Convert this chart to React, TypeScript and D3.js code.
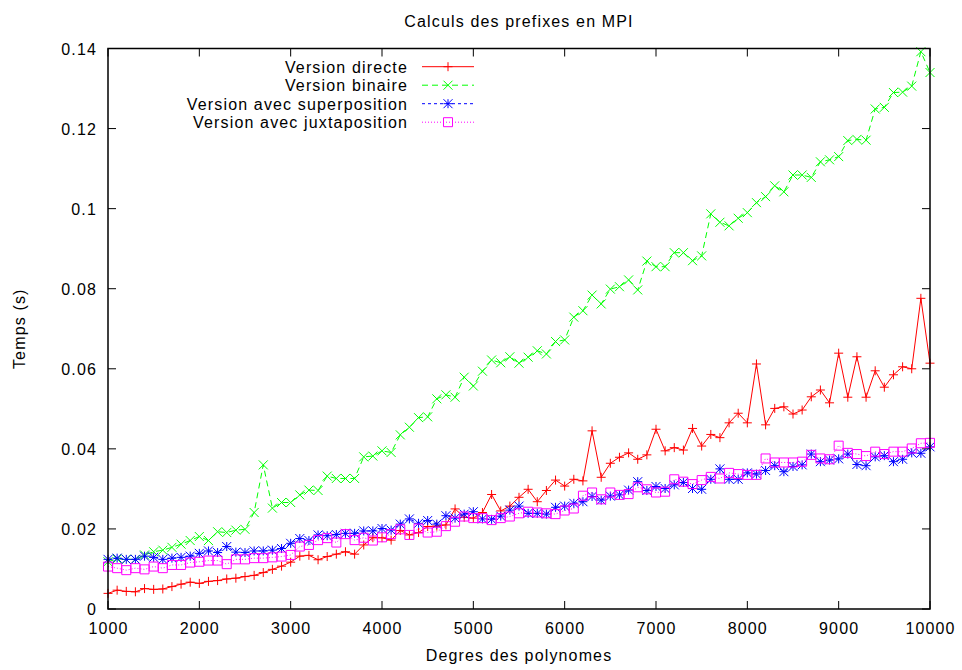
import React from 'react';
import * as d3 from 'd3';

const degrees = [
  1000, 1100, 1200, 1300, 1400, 1500, 1600, 1700, 1800, 1900,
  2000, 2100, 2200, 2300, 2400, 2500, 2600, 2700, 2800, 2900,
  3000, 3100, 3200, 3300, 3400, 3500, 3600, 3700, 3800, 3900,
  4000, 4100, 4200, 4300, 4400, 4500, 4600, 4700, 4800, 4900,
  5000, 5100, 5200, 5300, 5400, 5500, 5600, 5700, 5800, 5900,
  6000, 6100, 6200, 6300, 6400, 6500, 6600, 6700, 6800, 6900,
  7000, 7100, 7200, 7300, 7400, 7500, 7600, 7700, 7800, 7900,
  8000, 8100, 8200, 8300, 8400, 8500, 8600, 8700, 8800, 8900,
  9000, 9100, 9200, 9300, 9400, 9500, 9600, 9700, 9800, 9900,
  10000,
];

const versionDirecte = [
  0.0039, 0.0047, 0.0044, 0.0043, 0.0051, 0.0049, 0.005, 0.0056, 0.0062, 0.0067,
  0.0064, 0.0069, 0.0071, 0.0075, 0.0077, 0.0081, 0.0084, 0.0091, 0.0099, 0.0107,
  0.0117, 0.0132, 0.0134, 0.0123, 0.0131, 0.0137, 0.0143, 0.0137, 0.016, 0.0178,
  0.0178, 0.0172, 0.0196, 0.0185, 0.0191, 0.0206, 0.0207, 0.021, 0.025, 0.0229,
  0.0227, 0.0241, 0.0286, 0.0245, 0.0257, 0.0279, 0.0299, 0.0268, 0.0296, 0.0322,
  0.0307, 0.0324, 0.032, 0.0445, 0.0329, 0.0364, 0.0379, 0.039, 0.0374, 0.0385,
  0.0449, 0.0395, 0.0403, 0.0397, 0.0451, 0.0407, 0.0436, 0.0428, 0.0465, 0.0489,
  0.0465, 0.0612, 0.046, 0.0501, 0.0505, 0.0487, 0.0497, 0.053, 0.0547, 0.0515,
  0.0639, 0.0529, 0.063, 0.0529, 0.0595, 0.0554, 0.0585, 0.0605, 0.06, 0.0776,
  0.0614,
];

const versionBinaire = [
  0.0118, 0.0125, 0.0124, 0.0124, 0.0135, 0.0143, 0.0147, 0.0154, 0.0162, 0.0171,
  0.0181, 0.0171, 0.0193, 0.0191, 0.0197, 0.0199, 0.0241, 0.036, 0.0252, 0.0266,
  0.0266, 0.0285, 0.0297, 0.0296, 0.0332, 0.0326, 0.0326, 0.0326, 0.038, 0.0382,
  0.0395, 0.0391, 0.0435, 0.0454, 0.0478, 0.048, 0.0525, 0.0535, 0.0529, 0.0579,
  0.0557, 0.0594, 0.0622, 0.0615, 0.063, 0.0614, 0.0629, 0.0645, 0.0637, 0.0668,
  0.0672, 0.0729, 0.0745, 0.0784, 0.0762, 0.0799, 0.0805, 0.0822, 0.0797, 0.0869,
  0.0855, 0.0855, 0.089, 0.089, 0.087, 0.0882, 0.0987, 0.0966, 0.0957, 0.0976,
  0.099, 0.1015, 0.103, 0.1057, 0.1042, 0.1084, 0.1084, 0.1078, 0.1117, 0.1122,
  0.113, 0.117, 0.1173, 0.1171, 0.1249, 0.1253, 0.129, 0.1291, 0.1306, 0.1392,
  0.134,
];

const versionSuperposition = [
  0.0124, 0.0127, 0.0124, 0.0124, 0.0132, 0.0129, 0.0124, 0.0127, 0.0129, 0.0132,
  0.0139, 0.0145, 0.0141, 0.0156, 0.0142, 0.0141, 0.0145, 0.0145, 0.0147, 0.0151,
  0.0164, 0.0176, 0.0171, 0.0185, 0.0183, 0.0186, 0.0189, 0.0189, 0.0195, 0.0195,
  0.0201, 0.0197, 0.0212, 0.0225, 0.0214, 0.0221, 0.0212, 0.0233, 0.0227, 0.0237,
  0.0243, 0.0225, 0.0224, 0.0232, 0.0247, 0.0257, 0.0239, 0.0239, 0.0237, 0.0254,
  0.0257, 0.0264, 0.0268, 0.0281, 0.0272, 0.0282, 0.0285, 0.0297, 0.0318, 0.0296,
  0.0306, 0.0301, 0.031, 0.0316, 0.0301, 0.0299, 0.0324, 0.035, 0.0324, 0.0324,
  0.034, 0.0337, 0.0346, 0.0358, 0.0343, 0.0356, 0.036, 0.0387, 0.0368, 0.0372,
  0.0375, 0.0387, 0.0361, 0.0358, 0.038, 0.0383, 0.0368, 0.0374, 0.039, 0.0389,
  0.0405,
];

const versionJuxtaposition = [
  0.0106, 0.0102, 0.0097, 0.0102, 0.0099, 0.0106, 0.0102, 0.011, 0.011, 0.0116,
  0.0118, 0.0121, 0.0121, 0.0112, 0.0124, 0.0124, 0.0127, 0.0127, 0.0129, 0.0131,
  0.0135, 0.0156, 0.016, 0.0172, 0.0177, 0.0166, 0.0187, 0.0172, 0.0178, 0.0171,
  0.0179, 0.0187, 0.0199, 0.0185, 0.0201, 0.0191, 0.0193, 0.0207, 0.0218, 0.0231,
  0.0227, 0.0227, 0.0222, 0.0227, 0.0231, 0.0239, 0.0243, 0.0241, 0.0239, 0.0237,
  0.0246, 0.0251, 0.0283, 0.0291, 0.0274, 0.0291, 0.0285, 0.0287, 0.0304, 0.0299,
  0.0291, 0.0293, 0.0324, 0.0318, 0.0312, 0.0322, 0.033, 0.0326, 0.034, 0.0337,
  0.0335, 0.0335, 0.0376, 0.0366, 0.0366, 0.0366, 0.0368, 0.0385, 0.0376, 0.0374,
  0.0408, 0.039, 0.0387, 0.0382, 0.0393, 0.0387, 0.0393, 0.0393, 0.0401, 0.0414,
  0.0415,
];

const xTickValues = [1000, 2000, 3000, 4000, 5000, 6000, 7000, 8000, 9000, 10000];
const yTickValues = [0, 0.02, 0.04, 0.06, 0.08, 0.1, 0.12, 0.14];
const yTickLabels = ['0', '0.02', '0.04', '0.06', '0.08', '0.1', '0.12', '0.14'];

const seriesNames = [
  'Version directe',
  'Version binaire',
  'Version avec superposition',
  'Version avec juxtaposition',
];

const W = 962;
const H = 670;
const LEFT = 108;
const RIGHT = 930;
const TOP = 48.5;
const BOTTOM = 609;
const FONT = "'Liberation Sans', Arial, Helvetica, sans-serif";
const FS = 16;
const LS = 1.15;

type MarkerKind = 'plus' | 'cross' | 'star' | 'square';

function markerPath(kind: MarkerKind, cx: number, cy: number): string {
  const h = 4.5;
  const plus = `M${cx - h},${cy}H${cx + h}M${cx},${cy - h}V${cy + h}`;
  const cross = `M${cx - h},${cy - h}L${cx + h},${cy + h}M${cx - h},${cy + h}L${cx + h},${cy - h}`;
  if (kind === 'plus') return plus;
  if (kind === 'cross') return cross;
  if (kind === 'star') return plus + cross;
  return `M${cx - h},${cy - h}H${cx + h}V${cy + h}H${cx - h}Z`;
}

export default function App() {
  const x = d3.scaleLinear().domain([1000, 10000]).range([LEFT, RIGHT]);
  const y = d3.scaleLinear().domain([0, 0.14]).range([BOTTOM, TOP]);

  const series = [
    { name: seriesNames[0], values: versionDirecte, color: '#ff0000', dash: undefined as string | undefined, marker: 'plus' as MarkerKind },
    { name: seriesNames[1], values: versionBinaire, color: '#00ff00', dash: '6,4', marker: 'cross' as MarkerKind },
    { name: seriesNames[2], values: versionSuperposition, color: '#0000ff', dash: '3,3', marker: 'star' as MarkerKind },
    { name: seriesNames[3], values: versionJuxtaposition, color: '#ff00ff', dash: '1,2', marker: 'square' as MarkerKind },
  ];

  const lineGen = (vals: number[]) =>
    d3
      .line<number>()
      .x((_, i) => x(degrees[i]))
      .y((d) => y(d))(vals) || '';

  const tickLen = 8;
  const legendTextX = 408;
  const legendLineX1 = 422;
  const legendLineX2 = 474;
  const legendMarkX = 448;
  const legendY0 = 66.7;
  const legendDy = 18.5;

  return (
    <svg
      width={W}
      height={H}
      viewBox={`0 0 ${W} ${H}`}
      style={{ position: 'absolute', left: 0, top: 0, display: 'block', background: '#ffffff' }}
      fontFamily={FONT}
    >
      <rect x={0} y={0} width={W} height={H} fill="#ffffff" />

      {/* title */}
      <text x={(LEFT + RIGHT) / 2} y={27} textAnchor="middle" fontSize={FS} letterSpacing={LS} fill="#000">
        Calculs des prefixes en MPI
      </text>

      {/* y ticks */}
      {yTickValues.map((v, i) => (
        <g key={`yt${i}`}>
          <line x1={LEFT} x2={LEFT + tickLen} y1={y(v)} y2={y(v)} stroke="#000" strokeWidth={1} />
          <line x1={RIGHT} x2={RIGHT - tickLen} y1={y(v)} y2={y(v)} stroke="#000" strokeWidth={1} />
          <text x={97} y={y(v) + 6} textAnchor="end" fontSize={FS} letterSpacing={LS} fill="#000">
            {yTickLabels[i]}
          </text>
        </g>
      ))}

      {/* x ticks */}
      {xTickValues.map((v, i) => (
        <g key={`xt${i}`}>
          <line x1={x(v)} x2={x(v)} y1={BOTTOM} y2={BOTTOM - tickLen} stroke="#000" strokeWidth={1} />
          <line x1={x(v)} x2={x(v)} y1={TOP} y2={TOP + tickLen} stroke="#000" strokeWidth={1} />
          <text x={x(v) + 0.5} y={634} textAnchor="middle" fontSize={FS} letterSpacing={LS} fill="#000">
            {String(v)}
          </text>
        </g>
      ))}

      {/* axis labels */}
      <text x={(LEFT + RIGHT) / 2} y={661} textAnchor="middle" fontSize={FS} letterSpacing={LS} fill="#000">
        Degres des polynomes
      </text>
      <text
        transform={`translate(25,${(TOP + BOTTOM) / 2}) rotate(-90)`}
        textAnchor="middle"
        fontSize={FS}
        letterSpacing={LS}
        fill="#000"
      >
        Temps (s)
      </text>

      {/* series */}
      <g>
        {series.map((s, si) => (
          <g key={`s${si}`}>
            <path d={lineGen(s.values)} fill="none" stroke={s.color} strokeWidth={1} strokeDasharray={s.dash} />
            <path
              d={s.values.map((v, i) => markerPath(s.marker, x(degrees[i]), y(v))).join('')}
              fill="none"
              stroke={s.color}
              strokeWidth={1}
            />
          </g>
        ))}
      </g>

      {/* legend */}
      {series.map((s, si) => {
        const ly = legendY0 + si * legendDy;
        return (
          <g key={`lg${si}`}>
            <text x={legendTextX} y={ly + 6} textAnchor="end" fontSize={FS} letterSpacing={LS} fill="#000">
              {s.name}
            </text>
            <line
              x1={legendLineX1}
              x2={legendLineX2}
              y1={ly}
              y2={ly}
              stroke={s.color}
              strokeWidth={1}
              strokeDasharray={s.dash}
            />
            <path d={markerPath(s.marker, legendMarkX, ly)} fill="none" stroke={s.color} strokeWidth={1} />
          </g>
        );
      })}

      {/* border */}
      <rect
        x={LEFT}
        y={TOP}
        width={RIGHT - LEFT}
        height={BOTTOM - TOP}
        fill="none"
        stroke="#000"
        strokeWidth={1.5}
      />
    </svg>
  );
}
